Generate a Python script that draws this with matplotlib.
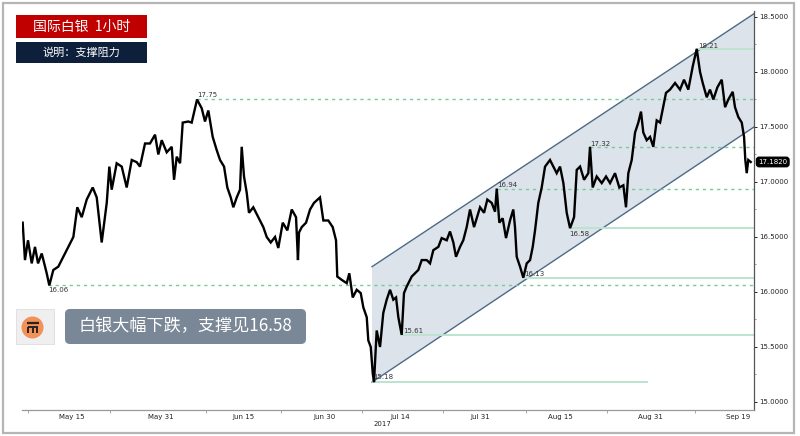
import matplotlib
matplotlib.use("Agg")
import matplotlib.pyplot as plt
from matplotlib.patches import Rectangle, FancyBboxPatch, Circle, Polygon

plt.rcParams['font.family'] = ['Noto Sans CJK SC', 'DejaVu Sans']

# ---------------- data (x = trading-day index from May 15) ----------------
t_vals = [-6.65, -6.34, -5.93, -5.43, -4.99, -4.58, -4.08, -3.41, -3.06, -2.52,
          -1.85, -1.17, -0.50, 0.18, 0.71, 1.31, 1.98, 2.79, 3.33, 4.00,
          4.68, 5.03, 5.35, 6.02, 6.70, 7.37, 8.05, 8.72, 9.16, 9.84,
          10.51, 11.19, 11.63, 12.09, 12.76, 13.44, 13.75, 14.11, 14.56, 14.92,
          15.67, 16.13, 16.85, 17.48, 17.92, 18.37, 18.96, 19.50, 19.95, 20.49,
          20.93, 21.39, 21.74, 22.20, 22.64, 22.87, 23.18, 23.55, 23.85, 24.43,
          25.11, 25.78, 26.24, 26.78, 27.36, 27.80, 28.40, 29.02, 29.61, 30.19,
          30.45, 30.59, 30.96, 31.54, 32.08, 32.61, 33.42, 33.87, 34.54, 35.13,
          35.58, 35.75, 36.35, 37.02, 37.37, 37.83, 38.37, 38.91, 39.26, 39.72,
          39.93, 40.26, 40.53, 40.70, 41.06, 41.51, 41.95, 42.41, 42.86, 43.30,
          43.67, 43.98, 44.43, 44.74, 45.11, 45.78, 46.23, 46.67, 47.13, 47.80,
          48.25, 48.69, 49.37, 49.82, 50.50, 50.94, 51.39, 51.75, 52.29, 52.73,
          53.19, 53.64, 54.18, 54.54, 54.99, 55.53, 55.97, 56.56, 57.01, 57.24,
          57.59, 58.04, 58.49, 59.03, 59.47, 59.70, 59.93, 60.38, 60.82, 61.28,
          61.73, 62.09, 62.40, 62.84, 63.30, 63.75, 64.42, 65.32, 65.77, 66.22,
          66.67, 67.12, 67.66, 68.02, 68.47, 69.01, 69.58, 69.81, 70.17, 70.71,
          71.39, 71.97, 72.51, 73.18, 73.76, 74.30, 74.66, 74.97, 75.43, 75.88,
          76.32, 76.68, 76.99, 77.45, 77.90, 78.34, 78.80, 79.25, 79.78, 80.05,
          80.59, 81.27, 81.94, 82.48, 83.06, 83.65, 84.19, 84.64, 85.00, 85.54,
          85.98, 86.43, 86.97, 87.56, 88.01, 88.45, 89.04, 89.35, 89.80, 90.26,
          90.57, 90.74, 90.93, 91.14, 91.47]
prices = [16.63, 16.29, 16.47, 16.26, 16.41, 16.26, 16.35, 16.17, 16.06, 16.20,
          16.23, 16.32, 16.41, 16.50, 16.77, 16.68, 16.84, 16.95, 16.86, 16.45,
          16.81, 17.14, 16.93, 17.17, 17.14, 16.95, 17.20, 17.18, 17.14, 17.35,
          17.35, 17.43, 17.25, 17.38, 17.27, 17.32, 17.02, 17.23, 17.17, 17.54,
          17.55, 17.54, 17.75, 17.67, 17.55, 17.65, 17.41, 17.29, 17.20, 17.14,
          16.95, 16.86, 16.77, 16.86, 16.93, 17.32, 17.05, 16.90, 16.72, 16.77,
          16.68, 16.59, 16.50, 16.45, 16.50, 16.40, 16.63, 16.56, 16.75, 16.68,
          16.29, 16.54, 16.59, 16.63, 16.75, 16.81, 16.86, 16.65, 16.65, 16.59,
          16.47, 16.14, 16.11, 16.08, 16.17, 15.95, 16.02, 15.99, 15.86, 15.77,
          15.56, 15.50, 15.26, 15.18, 15.65, 15.50, 15.81, 15.93, 16.02, 15.93,
          15.95, 15.77, 15.61, 15.99, 16.05, 16.14, 16.17, 16.20, 16.29, 16.29,
          16.26, 16.38, 16.41, 16.49, 16.47, 16.55, 16.45, 16.32, 16.41, 16.47,
          16.59, 16.75, 16.59, 16.67, 16.77, 16.72, 16.84, 16.81, 16.73, 16.94,
          16.63, 16.67, 16.49, 16.65, 16.75, 16.59, 16.32, 16.23, 16.13, 16.26,
          16.29, 16.41, 16.56, 16.81, 16.95, 17.14, 17.20, 17.08, 17.14, 16.99,
          16.72, 16.58, 16.68, 17.11, 17.14, 17.02, 17.08, 17.32, 16.95, 17.05,
          16.99, 17.05, 16.99, 17.08, 16.95, 16.97, 16.77, 17.08, 17.20, 17.45,
          17.54, 17.64, 17.45, 17.38, 17.41, 17.32, 17.56, 17.54, 17.72, 17.81,
          17.84, 17.90, 17.84, 17.93, 17.84, 18.05, 18.21, 18.00, 17.90, 17.77,
          17.84, 17.75, 17.86, 17.93, 17.68, 17.75, 17.82, 17.68, 17.59, 17.54,
          17.41, 17.20, 17.08, 17.20, 17.182]

x_tick_pos = [0, 12.0, 23.05, 34.1, 44.2, 55.0, 65.8, 77.9, 89.8]
x_tick_labels = ['May 15', 'May 31', 'Jun 15', 'Jun 30', 'Jul 14', 'Jul 31',
                 'Aug 15', 'Aug 31', 'Sep 19']
x_minor_pos = [-5.93, 5.12, 18.06, 28.17, 39.08, 50.0, 61.19, 72.1, 83.96]
y_ticks = [15.0, 15.5, 16.0, 16.5, 17.0, 17.5, 18.0, 18.5]
y_minor = [15.25, 15.75, 16.25, 16.75, 17.25, 17.75, 18.25]

# support / resistance levels
dashed_levels = [17.75, 16.06, 16.94, 17.32]
dashed_start = [16.85, -3.23, 57.3, 69.8]
solid_levels = [18.21, 16.58, 16.13, 15.61, 15.18]
solid_start = [84.2, 67.1, 60.8, 44.5, 40.5]
solid_end = [None, None, None, None, 77.5]

# channel: start/end x and prices of lower and upper boundaries
chan_x = [40.43, 91.91]
chan_low = [15.18, 17.50]
chan_up = [16.23, 18.53]

last_price = 17.182
x_min, x_max = -6.74, 91.91
y_min, y_max = 14.927, 18.55

# ---------------- figure ----------------
fig = plt.figure(figsize=(8.0, 4.36), dpi=100)
ax = fig.add_axes([22 / 800, 26 / 436, 732 / 800, 398.5 / 436])
ax.set_xlim(x_min, x_max)
ax.set_ylim(y_min, y_max)

# channel
poly = Polygon([(chan_x[0], chan_low[0]), (chan_x[1], chan_low[1]),
                (chan_x[1], chan_up[1]), (chan_x[0], chan_up[0])],
               closed=True, facecolor='#dde3ea', edgecolor='none', zorder=1)
ax.add_patch(poly)
ax.plot(chan_x, chan_low, color='#4d6a86', lw=1.0, zorder=2)
ax.plot(chan_x, chan_up, color='#4d6a86', lw=1.0, zorder=2)

# levels
for lv, xs in zip(dashed_levels, dashed_start):
    ax.plot([xs, x_max], [lv, lv], color='#74cd9c', lw=1.0,
            linestyle=(0, (2.3, 2.8)), zorder=2)
for lv, xs, xe in zip(solid_levels, solid_start, solid_end):
    ax.plot([xs, x_max if xe is None else xe], [lv, lv], color='#bce4cf',
            lw=1.4, zorder=2)

# price
ax.plot(t_vals, prices, color='black', lw=1.7, zorder=4, solid_joinstyle='miter')

# level labels
lab_kw = dict(fontsize=5, color='#333333', family='DejaVu Sans', zorder=5)
ax.text(16.85, 17.765, '17.75', va='bottom', ha='left', **lab_kw)
ax.text(-3.2, 16.045, '16.06', va='top', ha='left', **lab_kw)
ax.text(40.6, 15.225, '15.18', va='center', ha='left', **lab_kw)
ax.text(44.6, 15.645, '15.61', va='center', ha='left', **lab_kw)
ax.text(61.0, 16.16, '16.13', va='center', ha='left', **lab_kw)
ax.text(67.0, 16.53, '16.58', va='center', ha='left', **lab_kw)
ax.text(57.3, 16.975, '16.94', va='center', ha='left', **lab_kw)
ax.text(69.8, 17.345, '17.32', va='center', ha='left', **lab_kw)
ax.text(84.4, 18.236, '18.21', va='center', ha='left', **lab_kw)

# axes styling
for s in ['left', 'top']:
    ax.spines[s].set_visible(False)
ax.spines['bottom'].set_color('#999999')
ax.spines['right'].set_color('#555555')
ax.spines['bottom'].set_linewidth(0.9)
ax.spines['right'].set_linewidth(0.9)
ax.yaxis.tick_right()
ax.set_yticks(y_ticks)
ax.set_yticklabels(['%.4f' % v for v in y_ticks])
ax.set_yticks(y_minor, minor=True)
ax.tick_params(axis='y', which='major', length=2.5, width=0.7, pad=1.5,
               labelsize=5, colors='#222222')
ax.tick_params(axis='y', which='minor', length=1.5, width=0.5, colors='#777777')
ax.set_xticks(x_tick_pos)
ax.set_xticklabels(x_tick_labels)
ax.set_xticks(x_minor_pos, minor=True)
ax.tick_params(axis='x', which='major', length=0, pad=3, labelsize=5,
               colors='#222222')
ax.tick_params(axis='x', which='minor', length=2, width=0.6, colors='#999999')
for lbl in ax.get_xticklabels() + ax.get_yticklabels():
    lbl.set_family('DejaVu Sans')
ax.text(41.9, -0.035, '2017', transform=ax.get_xaxis_transform(), fontsize=5,
        ha='center', va='center', color='#222222', family='DejaVu Sans')

# current price tag
ax.annotate('%.4f' % last_price, xy=(1.0, last_price),
            xycoords=('axes fraction', 'data'), xytext=(3, 0),
            textcoords='offset points', fontsize=5, color='white',
            va='center', ha='left', family='DejaVu Sans', annotation_clip=False,
            bbox=dict(boxstyle='round,pad=0.25,rounding_size=0.4',
                      fc='black', ec='black'))

# ---------------- decorations (overlay in pixel coords) ----------------
deco = fig.add_axes([0, 0, 1, 1], zorder=10)
deco.set_xlim(0, 800)
deco.set_ylim(436, 0)
deco.axis('off')
deco.patch.set_alpha(0)

deco.add_patch(Rectangle((3, 3), 791, 430, fill=False, ec='#b5b5b5', lw=1.6))

deco.add_patch(Rectangle((16, 15), 131, 23, fc='#c00000', ec='none'))
deco.text(81.5, 26.5, '国际白银  1小时', color='white', fontsize=10,
          ha='center', va='center')
deco.add_patch(Rectangle((16, 42), 131, 21, fc='#0d1f3a', ec='none'))
deco.text(81.5, 52.5, '说明：支撑阻力', color='white', fontsize=8,
          ha='center', va='center')

# logo
deco.add_patch(Rectangle((16, 309), 38, 35, fc='#efefef', ec='#dddddd', lw=0.6))
deco.add_patch(Circle((32.5, 327.5), 11, fc='#f29158', ec='none'))
deco.plot([26.5, 38.5], [322.5, 322.5], color='#2a2320', lw=1.6,
          solid_capstyle='butt')
deco.plot([27.5, 37.5], [326.5, 326.5], color='#2a2320', lw=1.4,
          solid_capstyle='butt')
for lx in [28.2, 32.5, 36.8]:
    deco.plot([lx, lx], [326.5, 333], color='#2a2320', lw=1.4,
              solid_capstyle='butt')

# callout
deco.add_patch(FancyBboxPatch((65, 309), 241, 35,
                              boxstyle='round,pad=0,rounding_size=5',
                              fc='#7a8797', ec='none'))
deco.text(185.5, 326.5, '白银大幅下跌，支撑见16.58', color='white',
          fontsize=12.3, ha='center', va='center')

fig.savefig('out.png', dpi=100)
